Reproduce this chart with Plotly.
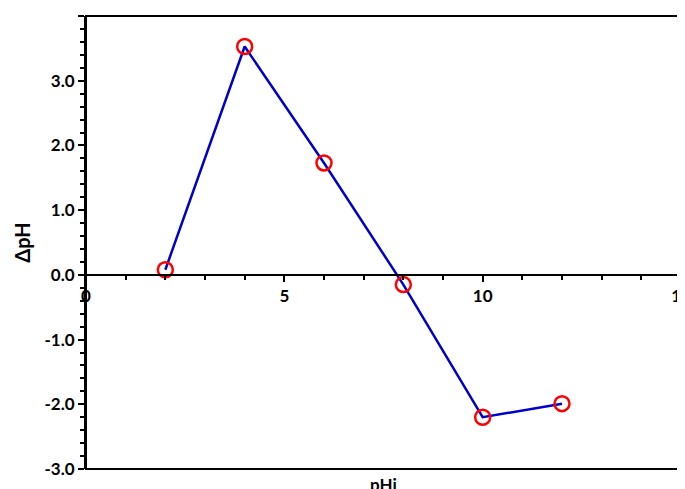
import plotly.graph_objects as go

# data
phi = [2, 4, 6, 8, 10, 12]
delta_ph = [0.08, 3.53, 1.73, -0.15, -2.2, -1.99]

y_ticks = [-3, -2, -1, 0, 1, 2, 3, 4]
y_labels = ["-3.0", "-2.0", "-1.0", "0.0", "1.0", "2.0", "3.0", "4.0"]

fnt = dict(family="Lato, Arial", size=17, color="black")

fig = go.Figure()
fig.add_trace(go.Scatter(
    x=phi, y=delta_ph, mode="lines+markers",
    line=dict(color="#0000CC", width=2.5),
    marker=dict(symbol="circle-open", size=15, color="red", line=dict(width=2.5, color="red")),
    showlegend=False, cliponaxis=False,
))

fig.update_layout(
    width=685, height=489,
    margin=dict(l=78, r=12, t=8, b=28),
    plot_bgcolor="white", paper_bgcolor="white",
    font=fnt,
    xaxis=dict(
        range=[0, 15], tickvals=[0, 5, 10, 15], anchor="free", position=3 / 7,
        showline=True, linecolor="black", linewidth=2, showgrid=False, zeroline=False,
        ticks="outside", ticklen=6, tickwidth=1.5, tickcolor="black",
        minor=dict(dtick=1, ticks="outside", ticklen=4, tickcolor="black"),
        tickfont=dict(family="Lato, Arial", size=17, color="black", weight="bold"),
        automargin=False,
    ),
    yaxis=dict(
        range=[-3, 4.001], tickvals=y_ticks, ticktext=y_labels,
        showline=True, linecolor="black", linewidth=2, mirror=True, showgrid=False, zeroline=False,
        ticks="outside", ticklen=6, tickwidth=1.5, tickcolor="black",
        minor=dict(dtick=0.2, ticks="outside", ticklen=4, tickcolor="black"),
        tickfont=dict(family="Lato, Arial", size=17, color="black", weight="bold"),
        title=dict(text="<b>ΔpH</b>", standoff=8),
        automargin=False,
    ),
    shapes=[dict(type="rect", xref="paper", yref="paper", x0=0, y0=0, x1=1, y1=1,
                 line=dict(color="black", width=2))],
    annotations=[dict(text="<b>pHi</b>", x=0.5, y=0, xref="paper", yref="paper",
                      yshift=-3, yanchor="top", showarrow=False, font=fnt)],
)

fig.write_html("out.html")
